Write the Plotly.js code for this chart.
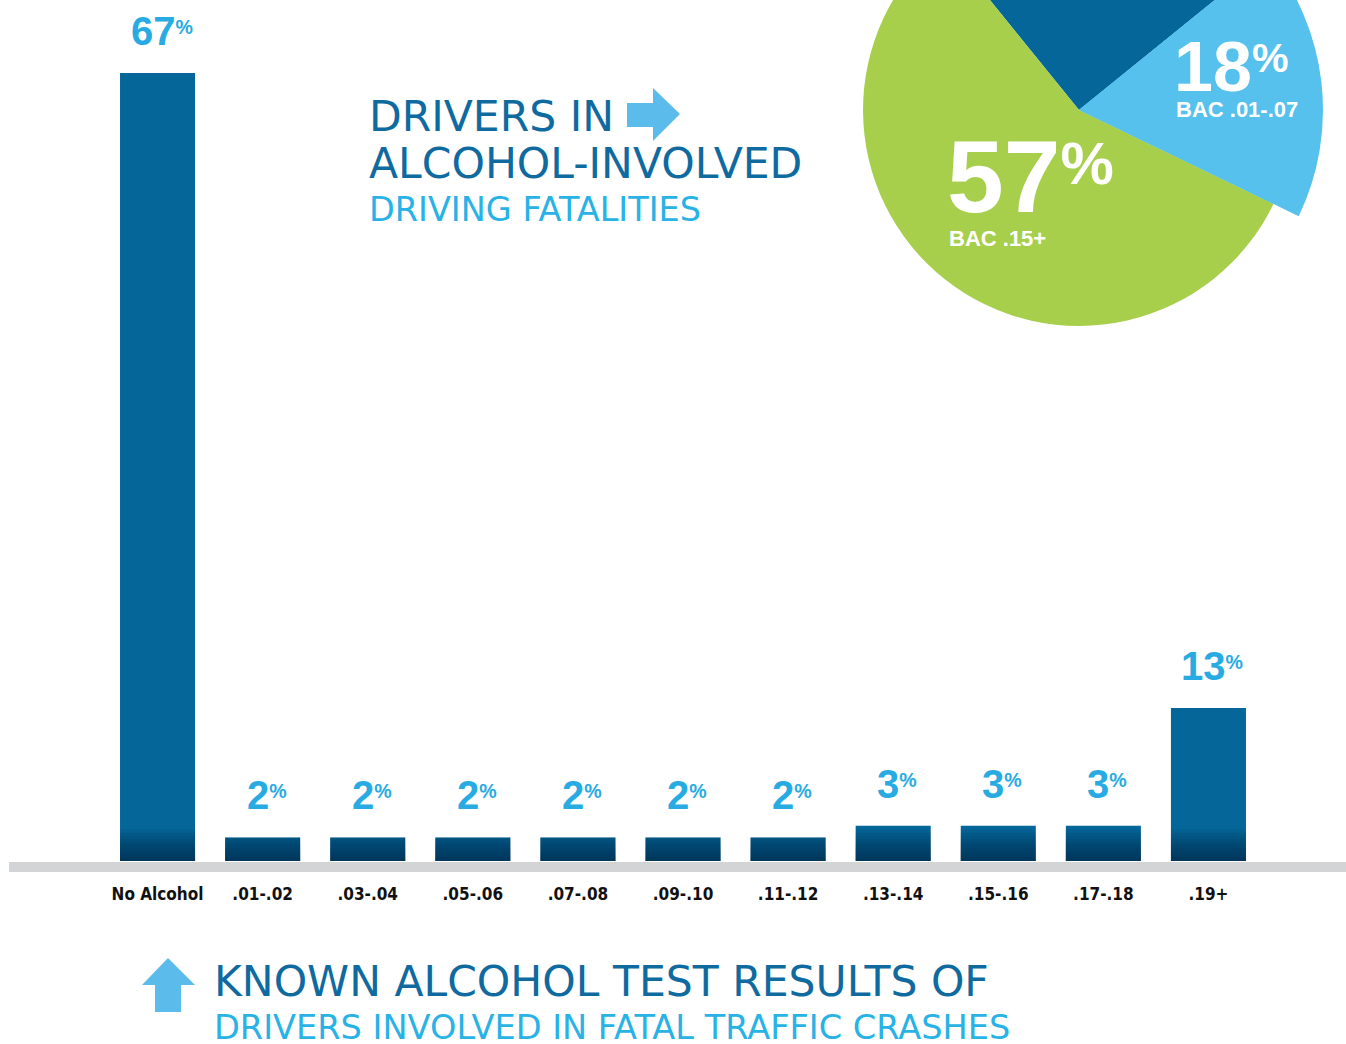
<!DOCTYPE html>
<html><head><meta charset="utf-8">
<script src="https://cdn.plot.ly/plotly-3.0.1.min.js"></script>
<style>
html,body{margin:0;padding:0;overflow:hidden;background:#fff;width:1346px;height:1044px}
#chart{position:absolute;left:0;top:-140px;width:1346px;height:1184px}
</style>
</head><body><div id="chart"></div>
<script>
// ---------- data ----------
const categories = ['No Alcohol','.01-.02','.03-.04','.05-.06','.07-.08','.09-.10','.11-.12','.13-.14','.15-.16','.17-.18','.19+'];
const barValues  = [67, 2, 2, 2, 2, 2, 2, 3, 3, 3, 13];
const barLabels  = ['67','2','2','2','2','2','2','3','3','3','13'];

const pieLabels  = ['BAC .08-.14', 'BAC .01-.07', 'BAC .15+'];
const pieValues  = [25, 18, 57];
const pieColors  = ['#05669a', '#55c1ec', '#a8cf4b'];

const titleTop    = ['DRIVERS IN', 'ALCOHOL-INVOLVED', 'DRIVING FATALITIES'];
const titleBottom = ['KNOWN ALCOHOL TEST RESULTS OF', 'DRIVERS INVOLVED IN FATAL TRAFFIC CRASHES'];

// ---------- geometry ----------
const W = 1346, OFF = 140, H = 1044 + OFF;
const ML = 105, MR = 0, MT = 0, MB = 183;
const plotW = W - ML - MR, plotH = H - MT - MB;
const pxPerUnit = (861 - 73) / 67;
const px = vx => (vx - ML) / plotW;
const py = vy => 1 - (vy + OFF - MT) / plotH;
const P = (x, y) => px(x) + ',' + py(y);

const DARK = '#0f6aa0', LIGHT = '#29b2e6', LABEL = '#27abe2', ARROW = '#5bbbeb';
const PCT_SMALL = '<sup><sub>%</sub></sup>';
const PCT_BIG = '<sup><sub><span style="font-size:120%">%</span></sub></sup>';

// ---------- traces ----------
const traces = [];
traces.push({
  type: 'bar', x: categories, y: barValues,
  marker: {color: '#05669a', line: {width: 0}},
  hoverinfo: 'skip', showlegend: false
});
// darker bottom shading built from the same values
for (let k = 1; k <= 10; k++) {
  traces.push({
    type: 'bar', x: categories, y: barValues.map(v => Math.min(v, k * 0.27)),
    marker: {color: 'rgba(6,28,52,0.08)', line: {width: 0}},
    hoverinfo: 'skip', showlegend: false
  });
}

const pc = {x: 1079, y: 110}, r1 = 216, r2 = 244;
traces.push({
  type: 'pie', values: pieValues, labels: pieLabels, sort: false,
  direction: 'clockwise', rotation: -39,
  marker: {colors: pieColors, line: {width: 0}},
  textinfo: 'none', hoverinfo: 'skip', showlegend: false,
  domain: {x: [px(pc.x - r1), px(pc.x + r1)], y: [py(pc.y + r1), py(pc.y - r1)]}
});
traces.push({
  type: 'pie', values: pieValues, labels: pieLabels, sort: false,
  direction: 'clockwise', rotation: -39,
  marker: {colors: pieColors.map((c, i) => i === 1 ? c : 'rgba(0,0,0,0)'), line: {width: 0}},
  textinfo: 'none', hoverinfo: 'skip', showlegend: false,
  domain: {x: [px(pc.x - r2), px(pc.x + r2)], y: [py(pc.y + r2), py(pc.y - r2)]}
});

// ---------- annotations ----------
const annotations = [];
barValues.forEach((v, i) => {
  annotations.push({
    x: categories[i], y: v, xref: 'x', yref: 'y',
    text: barLabels[i] + PCT_SMALL,
    showarrow: false, xanchor: 'center', yanchor: 'middle', xshift: 4, yshift: 42,
    font: {family: 'Liberation Sans', size: 40, color: LABEL, weight: 'bold'}
  });
});

const topPos = [116, 163, 210];
const topSizes = [42.5, 42.5, 33.5];
const topColors = [DARK, DARK, LIGHT];
titleTop.forEach((t, i) => annotations.push({
  x: px(367), y: py(topPos[i]), xref: 'paper', yref: 'paper', text: t,
  showarrow: false, xanchor: 'left', yanchor: 'middle',
  font: {family: 'DejaVu Sans', size: topSizes[i], color: topColors[i]}
}));
const botPos = [981, 1027];
const botSizes = [42.5, 33.6];
const botColors = [DARK, LIGHT];
titleBottom.forEach((t, i) => annotations.push({
  x: px(212), y: py(botPos[i]), xref: 'paper', yref: 'paper', text: t,
  showarrow: false, xanchor: 'left', yanchor: 'middle',
  font: {family: 'DejaVu Sans', size: botSizes[i], color: botColors[i]}
}));

// pie labels (the dark-blue slice label sits outside the visible picture)
const pieTextPos = [null, {x: 1172, yNum: 67, yLab: 110, num: 70, lab: 22},
                          {x: 945, yNum: 177, yLab: 238, num: 102, lab: 22}];
[1, 2].forEach(i => {
  const p = pieTextPos[i];
  annotations.push({
    x: px(p.x), y: py(p.yNum), xref: 'paper', yref: 'paper',
    text: pieValues[i] + PCT_BIG,
    showarrow: false, xanchor: 'left', yanchor: 'middle',
    font: {family: 'Liberation Sans', size: p.num, color: '#ffffff', weight: 'bold'}
  });
  annotations.push({
    x: px(p.x + 2), y: py(p.yLab), xref: 'paper', yref: 'paper', text: pieLabels[i],
    showarrow: false, xanchor: 'left', yanchor: 'middle',
    font: {family: 'Liberation Sans', size: p.lab, color: '#ffffff', weight: 'bold'}
  });
});

// ---------- shapes ----------
const shapes = [
  {type: 'rect', xref: 'paper', yref: 'paper', x0: px(9), x1: px(1346), y0: py(872), y1: py(862),
   fillcolor: '#d3d4d6', line: {width: 0}, layer: 'below'},
  {type: 'path', xref: 'paper', yref: 'paper', fillcolor: ARROW, line: {width: 0},
   path: 'M' + P(627,103) + 'L' + P(653,103) + 'L' + P(653,88) + 'L' + P(680,114) +
         'L' + P(653,141) + 'L' + P(653,127) + 'L' + P(627,127) + 'Z'},
  {type: 'path', xref: 'paper', yref: 'paper', fillcolor: ARROW, line: {width: 0},
   path: 'M' + P(168,958) + 'L' + P(195,985) + 'L' + P(181,985) + 'L' + P(181,1012) +
         'L' + P(155,1012) + 'L' + P(155,985) + 'L' + P(142,985) + 'Z'}
];

const layout = {
  width: W, height: H,
  margin: {l: ML, r: MR, t: MT, b: MB, pad: 0},
  paper_bgcolor: '#ffffff', plot_bgcolor: 'rgba(0,0,0,0)',
  barmode: 'overlay', bargap: 0.286,
  showlegend: false,
  font: {family: 'Liberation Sans'},
  xaxis: {
    domain: [0, (1261 - ML) / plotW], type: 'category',
    tickvals: categories, ticktext: categories,
    showgrid: false, zeroline: false, showline: false, ticks: '',
    ticklabelstandoff: 21,
    tickfont: {family: 'DejaVu Sans Condensed, DejaVu Sans', size: 17, color: '#111111', weight: 'bold'},
    fixedrange: true
  },
  yaxis: {
    range: [0, plotH / pxPerUnit], showgrid: false, zeroline: false, showline: false,
    showticklabels: false, ticks: '', fixedrange: true
  },
  annotations: annotations,
  shapes: shapes
};

Plotly.newPlot('chart', traces, layout, {displayModeBar: false, staticPlot: true});
</script>
</body></html>
